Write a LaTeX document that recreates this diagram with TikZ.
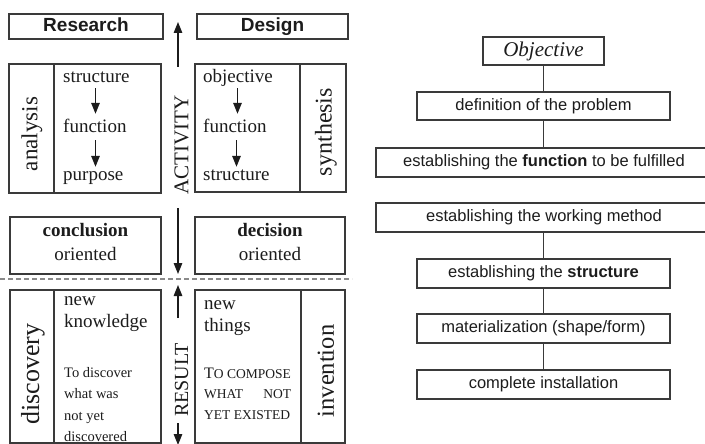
\documentclass[tikz,border=0pt]{standalone}
\usepackage{fontspec}
\setmainfont{Liberation Serif}
\setsansfont{Liberation Sans}
\usetikzlibrary{arrows.meta}

\definecolor{ink}{HTML}{1C1C1C}
\definecolor{edge}{HTML}{3A3A3A}
\definecolor{dashgray}{HTML}{8A8A8A}

% small caps imitation for the Design column
\newcommand{\scsmall}[1]{{\fontsize{13.5}{15}\selectfont #1}}

\begin{document}
\begin{tikzpicture}[x=1pt,y=-1pt,
  every node/.style={text=ink},
  frame/.style={draw=edge, line width=1.25pt, inner sep=0pt, fill=white},
  flowbox/.style={draw=edge, line width=1.1pt, inner sep=0pt, fill=white,
                  font=\sffamily\fontsize{16.5}{19}\selectfont},
  headtxt/.style={font=\sffamily\bfseries\fontsize{19}{22}\selectfont, text height=14pt, text depth=4pt},
  itemtxt/.style={font=\fontsize{19}{22}\selectfont, inner sep=0pt, anchor=base west,
                  text height=13pt, text depth=4pt},
  ctrtxt/.style={font=\fontsize{19}{22}\selectfont, inner sep=0pt, anchor=base},
  smalltxt/.style={font=\fontsize{14.5}{17}\selectfont, inner sep=0pt, anchor=base west},
  sidetxt/.style={rotate=90, inner sep=0pt},
  arr/.style={-{Triangle[length=11pt,width=8.5pt]}, draw=ink, fill=ink, line width=1.4pt},
  link/.style={draw=edge, line width=1pt}
]
\useasboundingbox (0,0) rectangle (705,444);
\fill[white] (0,0) rectangle (705,444);
\clip (0,0) rectangle (705,444);

% ---------- headings ----------
\node[frame, headtxt, minimum width=154pt, minimum height=25pt] (research) at (86,26.5) {Research};
\node[frame, headtxt, minimum width=151pt, minimum height=25pt] (design) at (272.5,26.5) {Design};

% ---------- activity boxes ----------
\node[frame, minimum width=152pt, minimum height=129pt] (anbox) at (85,128.5) {};
\draw[edge, line width=1.25pt] (anbox.north -| 54,0) -- (anbox.south -| 54,0);
\node[frame, minimum width=151pt, minimum height=128pt] (syBox) at (270.5,128) {};
\draw[edge, line width=1.25pt] (syBox.north -| 300,0) -- (syBox.south -| 300,0);

\node[sidetxt, font=\fontsize{23}{26}\selectfont] (analysis) at (32,134) {analysis};
\node[sidetxt, font=\fontsize{24}{27}\selectfont] (synthesis) at (326,132) {synthesis};

\node[itemtxt] (s1) at (63,83) {structure};
\node[itemtxt] (f1) at (63,132) {function};
\node[itemtxt] (p1) at (63,180) {purpose};
\draw[arr, shorten <=1pt, shorten >=5pt] (s1.south -| 95.5,0) -- (f1.north -| 95.5,0);
\draw[arr, shorten <=4pt] (f1.south -| 95.5,0) -- (p1.north -| 95.5,0);

\node[itemtxt] (o2) at (203,83) {objective};
\node[itemtxt] (f2) at (203,132) {function};
\node[itemtxt] (s2) at (203,180) {structure};
\draw[arr, shorten <=1pt, shorten >=5pt] (o2.south -| 237.5,0) -- (f2.north -| 237.5,0);
\draw[arr, shorten <=4pt] (f2.south -| 236.5,0) -- (s2.north -| 236.5,0);

% ---------- orientation boxes ----------
\node[frame, minimum width=151pt, minimum height=57pt] (conbox) at (85.5,245.5) {};
\node[ctrtxt, font=\bfseries\fontsize{19}{22}\selectfont] (con1) at (85.5,236) {conclusion};
\node[ctrtxt] (con2) at (85.5,260) {oriented};
\node[frame, minimum width=150pt, minimum height=57pt] (decbox) at (270,245.5) {};
\node[ctrtxt, font=\bfseries\fontsize{19}{22}\selectfont] (dec1) at (270,236) {decision};
\node[ctrtxt] (dec2) at (270,260) {oriented};

% ---------- activity axis ----------
\node[sidetxt, font=\fontsize{21}{24}\selectfont] (activity) at (181.5,145) {ACTIVITY};
\coordinate (actTop) at (178,22);
\coordinate (actUp) at (178,67);
\coordinate (actDown) at (178,208);
\coordinate (actBot) at (178,274);
\draw[arr] (actUp) -- (actTop);
\draw[arr] (actDown) -- (actBot);

% ---------- separator ----------
\coordinate (sepL) at (0,279);
\coordinate (sepR) at (352,279);
\draw[dashgray, line width=1.4pt, dash pattern=on 5pt off 3pt] (sepL) -- (sepR);

% ---------- result boxes ----------
\node[frame, minimum width=151pt, minimum height=153pt] (disbox) at (85.5,366.5) {};
\draw[edge, line width=1.25pt] (disbox.north -| 54,0) -- (disbox.south -| 54,0);
\node[frame, minimum width=150pt, minimum height=153pt] (invbox) at (270,366.5) {};
\draw[edge, line width=1.25pt] (invbox.north -| 301,0) -- (invbox.south -| 301,0);

\node[sidetxt, font=\fontsize{26}{29}\selectfont] (discovery) at (33,374) {discovery};
\node[sidetxt, font=\fontsize{24.5}{28}\selectfont] (invention) at (326,371) {invention};

\node[itemtxt] (nw1) at (64,305) {new};
\node[itemtxt] (kn) at (64,327) {knowledge};
\node[smalltxt] (d1) at (64,377) {To discover};
\node[smalltxt] (d2) at (64,398.5) {what was};
\node[smalltxt] (d3) at (64,420) {not yet};
\node[smalltxt] (d4) at (64,441.5) {discovered};

\node[itemtxt] (nw2) at (204,309) {new};
\node[itemtxt] (th) at (204,331) {things};
\node[smalltxt, font=\fontsize{16}{18}\selectfont] (c1) at (204,378) {T\scsmall{O COMPOSE}};
\node[smalltxt, text width=87pt] (c2) at (204,398) {\scsmall{WHAT}\hfill\scsmall{NOT}};
\node[smalltxt] (c3) at (204,419) {\scsmall{YET EXISTED}};

% ---------- result axis ----------
\node[sidetxt, font=\fontsize{20}{23}\selectfont] (result) at (181.5,380) {RESULT};
\coordinate (resTop) at (178,285);
\coordinate (resUp) at (178,318);
\coordinate (resDown) at (178,423);
\coordinate (resBot) at (178,445);
\draw[arr] (resUp) -- (resTop);
\draw[arr] (resDown) -- (resBot);

% ---------- design procedure ----------
\node[flowbox, font=\itshape\fontsize{21}{24}\selectfont, minimum width=121pt, minimum height=28pt] (obj) at (543.5,51) {Objective};
\node[flowbox, minimum width=253pt, minimum height=28pt] (def) at (543.5,106) {definition of the problem};
\node[flowbox, minimum width=336pt, minimum height=29pt] (fun) at (544,162.5) {establishing the \textbf{function} to be fulfilled};
\node[flowbox, minimum width=336pt, minimum height=29pt] (wm) at (544,217.5) {establishing the working method};
\node[flowbox, minimum width=253pt, minimum height=29pt] (str) at (543.5,273.5) {establishing the \textbf{structure}};
\node[flowbox, minimum width=253pt, minimum height=29pt] (mat) at (543.5,328.5) {materialization (shape/form)};
\node[flowbox, minimum width=253pt, minimum height=29pt] (com) at (543.5,384.5) {complete installation};

\draw[link] (obj.south) -- (def.north);
\draw[link] (def.south) -- (def.south |- fun.north);
\draw[link] (wm.south -| str.north) -- (str.north);
\draw[link] (str.south) -- (mat.north);
\draw[link] (mat.south) -- (com.north);
\end{tikzpicture}
\end{document}
